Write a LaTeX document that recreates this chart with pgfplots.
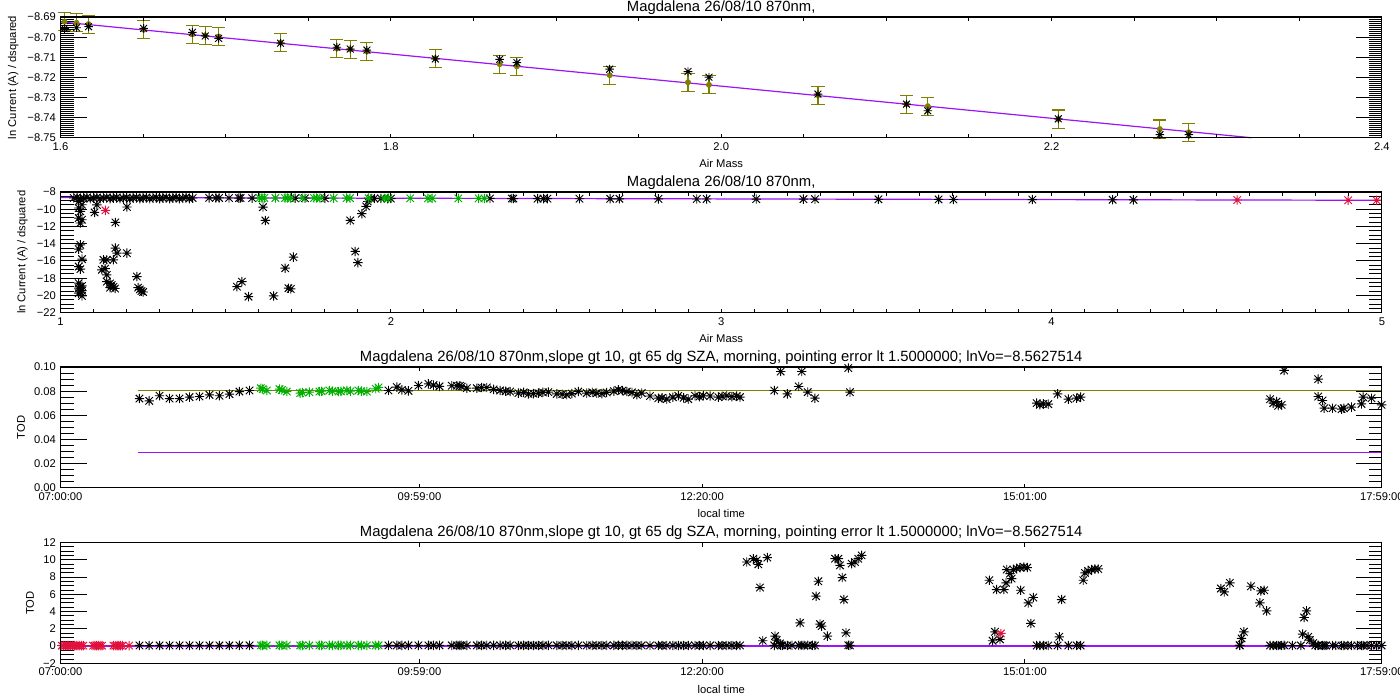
\documentclass[border=0pt]{standalone}
\usepackage{fontspec}
\setmainfont{Liberation Sans}
\usepackage{pgfplots}
\usepackage{pgfplotstable}
\pgfplotsset{compat=1.18}

\definecolor{idlpurple}{RGB}{155,20,245}
\definecolor{idlolive}{RGB}{128,128,0}
\definecolor{idlgreen}{RGB}{0,175,0}
\definecolor{idlred}{RGB}{225,15,60}

% IDL psym=2 style asterisk
\pgfdeclareplotmark{idlstar}{%
  \pgfpathmoveto{\pgfqpoint{-\pgfplotmarksize}{0pt}}%
  \pgfpathlineto{\pgfqpoint{\pgfplotmarksize}{0pt}}%
  \pgfpathmoveto{\pgfqpoint{0pt}{-\pgfplotmarksize}}%
  \pgfpathlineto{\pgfqpoint{0pt}{\pgfplotmarksize}}%
  \pgfpathmoveto{\pgfqpoint{-0.8\pgfplotmarksize}{-0.8\pgfplotmarksize}}%
  \pgfpathlineto{\pgfqpoint{0.8\pgfplotmarksize}{0.8\pgfplotmarksize}}%
  \pgfpathmoveto{\pgfqpoint{-0.8\pgfplotmarksize}{0.8\pgfplotmarksize}}%
  \pgfpathlineto{\pgfqpoint{0.8\pgfplotmarksize}{-0.8\pgfplotmarksize}}%
  \pgfusepathqstroke}

\pgfplotsset{
  panel/.style={scale only axis, width=991pt, height=90.5pt, anchor=south west,
    axis line style={line width=0.9pt},
    tick style={black, line width=0.75pt},
    tick align=inside,
    /pgf/number format/assume math mode=true,
    tick label style={font=\fontsize{8.4}{10}\selectfont},
    label style={font=\fontsize{8.4}{10}\selectfont},
    every axis title shift=0pt,
    title style={font=\fontsize{11.1}{13}\selectfont, yshift=-1.5pt},
    major tick length=19.5pt, minor tick length=9.75pt},
  yside/.style={xtick=\empty},
  xside/.style={ytick=\empty, ymin=0, ymax=1, major tick length=3pt, minor tick length=3pt},
  pts/.style={only marks, mark=idlstar, mark size=3.5pt, line width=0.7pt},
}

% TOD, black points (local time in hours)
\pgfplotstableread{
t v
7.656 0.0739
7.737 0.0720
7.823 0.0762
7.906 0.0739
7.989 0.0739
8.072 0.0751
8.155 0.0756
8.238 0.0770
8.321 0.0762
8.404 0.0776
8.487 0.0797
8.571 0.0806
9.726 0.0806
9.795 0.0834
9.837 0.0811
9.892 0.0803
9.975 0.0847
10.058 0.0861
10.100 0.0850
10.150 0.0840
10.252 0.0845
10.294 0.0845
10.320 0.0845
10.335 0.0839
10.377 0.0825
10.460 0.0825
10.500 0.0830
10.543 0.0831
10.600 0.0815
10.654 0.0806
10.700 0.0800
10.737 0.0797
10.806 0.0784
10.850 0.0790
10.889 0.0778
10.930 0.0780
10.972 0.0784
11.010 0.0790
11.055 0.0792
11.125 0.0778
11.170 0.0775
11.208 0.0770
11.250 0.0780
11.304 0.0797
11.374 0.0784
11.420 0.0790
11.457 0.0784
11.500 0.0780
11.540 0.0789
11.600 0.0800
11.637 0.0811
11.670 0.0805
11.707 0.0797
11.750 0.0790
11.790 0.0770
11.831 0.0784
11.900 0.0760
11.969 0.0742
12.000 0.0745
12.039 0.0734
12.090 0.0750
12.135 0.0762
12.180 0.0745
12.218 0.0734
12.274 0.0762
12.310 0.0755
12.343 0.0762
12.400 0.0760
12.468 0.0751
12.500 0.0758
12.538 0.0762
12.580 0.0755
12.620 0.0760
12.648 0.0751
12.933 0.0806
12.986 0.0963
13.041 0.0778
13.136 0.0839
13.161 0.0963
13.211 0.0792
13.271 0.0742
13.548 0.0992
13.562 0.0792
15.114 0.0701
15.141 0.0687
15.169 0.0695
15.210 0.0693
15.288 0.0778
15.377 0.0734
15.446 0.0742
15.479 0.0751
16.800 0.1003
17.054 0.0734
17.080 0.0701
17.108 0.0714
17.122 0.0679
17.150 0.0687
17.171 0.0972
17.454 0.0900
17.454 0.0756
17.490 0.0723
17.504 0.0659
17.573 0.0659
17.648 0.0651
17.667 0.0659
17.731 0.0668
17.814 0.0695
17.828 0.0751
17.897 0.0742
17.981 0.0687
}\todblack

% TOD, green points
\pgfplotstableread{
t v
8.665 0.0825
8.680 0.0818
8.715 0.0806
8.820 0.0817
8.840 0.0810
8.881 0.0797
8.992 0.0784
9.010 0.0788
9.069 0.0792
9.152 0.0797
9.170 0.0800
9.235 0.0806
9.260 0.0800
9.310 0.0797
9.330 0.0800
9.380 0.0806
9.410 0.0800
9.476 0.0806
9.500 0.0800
9.546 0.0797
9.620 0.0820
9.643 0.0831
}\todgreen

\begin{document}
\begin{tikzpicture}
\useasboundingbox (0,0) rectangle (1050pt,525pt);

% ---------------- panel 1 ----------------
\begin{axis}[panel, yside, at={(45.4pt,421.7pt)},
  xmin=1.6, xmax=2.4, ymin=-8.75, ymax=-8.69,
  ytick={-8.75,-8.74,-8.73,-8.72,-8.71,-8.70,-8.69},
  yticklabels={−8.75,−8.74,−8.73,−8.72,−8.71,−8.70,−8.69},
  minor y tick num=9,
  ylabel={ln Current (A) / dsquared},
  title={Magdalena 26/08/10 870nm,},
  clip=false]
\addplot[idlpurple, line width=0.9pt, mark=none] coordinates {(1.6,-8.6924) (2.321,-8.75)};
\addplot[idlolive, only marks, mark=none,
  error bars/.cd, y dir=both, y explicit,
  error bar style={line width=0.8pt, idlolive},
  error mark options={rotate=90, mark size=4.9pt, line width=0.8pt, idlolive}]
coordinates {
(1.6024,-8.6923) +- (0,0.0045)
(1.6097,-8.6929) +- (0,0.0045)
(1.6170,-8.6935) +- (0,0.0045)
(1.6503,-8.6963) +- (0,0.0045)
(1.6798,-8.6986) +- (0,0.0045)
(1.6876,-8.6991) +- (0,0.0045)
(1.6957,-8.6996) +- (0,0.0045)
(1.7332,-8.7027) +- (0,0.0045)
(1.7673,-8.7056) +- (0,0.0045)
(1.7754,-8.7060) +- (0,0.0045)
(1.7855,-8.7071) +- (0,0.0045)
(1.8269,-8.7105) +- (0,0.0045)
(1.8659,-8.7134) +- (0,0.0045)
(1.8763,-8.7145) +- (0,0.0045)
(1.9325,-8.7189) +- (0,0.0045)
(1.9799,-8.7224) +- (0,0.0045)
(1.9926,-8.7237) +- (0,0.0045)
(2.0586,-8.7288) +- (0,0.0045)
(2.1122,-8.7333) +- (0,0.0045)
(2.1251,-8.7343) +- (0,0.0045)
(2.2041,-8.7407) +- (0,0.0045)
(2.2656,-8.7457) +- (0,0.0045)
(2.2831,-8.7473) +- (0,0.0045)
};
\addplot[black, pts, mark size=3.2pt] coordinates {
(1.6024,-8.6957)(1.6097,-8.6953)(1.6170,-8.6948)(1.6503,-8.6956)(1.6798,-8.6976)
(1.6876,-8.6994)(1.6957,-8.7006)(1.7332,-8.7030)(1.7673,-8.7050)(1.7754,-8.7059)
(1.7855,-8.7064)(1.8269,-8.7108)(1.8659,-8.7110)(1.8763,-8.7127)(1.9325,-8.7159)
(1.9799,-8.7171)(1.9926,-8.7199)(2.0586,-8.7283)(2.1122,-8.7333)(2.1251,-8.7366)
(2.2041,-8.7406)(2.2656,-8.7485)(2.2831,-8.7485)
};
\end{axis}
\begin{axis}[panel, xside, at={(45.4pt,421.7pt)},
  xmin=1.6, xmax=2.4, xtick={1.6,1.8,2.0,2.2,2.4},
  xticklabels={1.6,1.8,2.0,2.2,2.4}, minor x tick num=3,
  xlabel={Air Mass}]
\end{axis}

% ---------------- panel 2 ----------------
\begin{axis}[panel, yside, at={(45.4pt,290.5pt)},
  xmin=1, xmax=5, ymin=-22, ymax=-8,
  ytick={-22,-20,-18,-16,-14,-12,-10,-8},
  yticklabels={−22,−20,−18,−16,−14,−12,−10,−8},
  minor y tick num=3,
  ylabel={ln Current (A) / dsquared},
  title={Magdalena 26/08/10 870nm,}]
\addplot[black, pts] coordinates {
(1.040,-8.70)(1.050,-8.62)(1.060,-8.78)(1.070,-8.70)(1.080,-8.62)(1.090,-8.78)
(1.100,-8.70)(1.110,-8.62)(1.120,-8.78)(1.130,-8.70)(1.140,-8.62)(1.150,-8.78)
(1.160,-8.70)(1.170,-8.62)(1.180,-8.78)(1.190,-8.70)(1.200,-8.62)(1.210,-8.78)
(1.220,-8.70)(1.230,-8.62)(1.240,-8.78)(1.250,-8.70)(1.260,-8.62)(1.270,-8.78)
(1.280,-8.70)(1.290,-8.62)(1.300,-8.78)(1.310,-8.70)(1.320,-8.62)(1.330,-8.78)
(1.340,-8.70)(1.350,-8.62)(1.360,-8.78)(1.370,-8.70)(1.380,-8.62)(1.390,-8.78)
(1.400,-8.70)
(1.450,-8.68)(1.470,-8.70)(1.480,-8.69)(1.510,-8.70)(1.540,-8.71)(1.545,-8.70)(1.580,-8.71)
(1.710,-8.73)(1.740,-8.72)(1.800,-8.74)(1.940,-8.76)(1.950,-8.75)(1.970,-8.76)(1.990,-8.77)(2.000,-8.76)
(2.300,-8.75)(2.366,-8.76)(2.371,-8.76)(2.444,-8.77)(2.462,-8.77)(2.474,-8.77)(2.571,-8.78)
(2.664,-8.79)(2.692,-8.79)(2.810,-8.80)(2.926,-8.81)(2.956,-8.81)(3.106,-8.82)(3.249,-8.83)
(3.284,-8.83)(3.476,-8.85)(3.658,-8.86)(3.703,-8.87)(3.942,-8.88)(4.185,-8.90)(4.248,-8.91)
(1.055,-9.09)(1.065,-9.48)(1.055,-9.86)(1.060,-10.25)(1.055,-11.03)(1.065,-11.22)(1.060,-11.60)
(1.060,-14.13)(1.055,-14.63)(1.065,-15.79)(1.055,-16.65)(1.060,-16.95)(1.055,-18.58)(1.065,-18.90)
(1.055,-19.16)(1.065,-19.44)(1.055,-19.74)(1.065,-20.06)(1.060,-19.00)(1.060,-19.60)
(1.103,-10.37)(1.110,-9.50)(1.166,-11.53)(1.201,-9.74)(1.166,-14.51)(1.171,-15.09)(1.201,-15.09)
(1.130,-15.87)(1.140,-15.87)(1.160,-15.87)(1.125,-17.03)(1.135,-16.90)(1.140,-17.62)
(1.140,-18.40)(1.150,-18.60)(1.155,-18.80)(1.160,-19.00)(1.165,-19.20)(1.150,-19.10)
(1.231,-17.81)(1.235,-19.10)(1.240,-19.30)(1.245,-19.50)(1.250,-19.60)
(1.534,-18.98)(1.549,-18.40)(1.569,-20.14)(1.613,-9.75)(1.620,-11.30)(1.645,-20.06)
(1.680,-16.84)(1.690,-19.16)(1.697,-19.25)(1.705,-15.56)
(1.877,-11.30)(1.892,-14.90)(1.900,-16.19)(1.912,-10.52)(1.925,-9.67)(1.930,-9.10)
};
\addplot[idlgreen, pts] coordinates {
(1.6024,-8.6957)(1.6097,-8.6953)(1.6170,-8.6948)(1.6503,-8.6956)(1.6798,-8.6976)
(1.6876,-8.6994)(1.6957,-8.7006)(1.7332,-8.7030)(1.7673,-8.7050)(1.7754,-8.7059)
(1.7855,-8.7064)(1.8269,-8.7108)(1.8659,-8.7110)(1.8763,-8.7127)(1.9325,-8.7159)
(1.9799,-8.7171)(1.9926,-8.7199)(2.0586,-8.7283)(2.1122,-8.7333)(2.1251,-8.7366)
(2.2041,-8.7406)(2.2656,-8.7485)(2.2831,-8.7485)
};
\addplot[idlred, pts] coordinates {
(1.136,-10.13)(4.562,-8.93)(4.898,-8.96)(4.984,-8.97)
};
\addplot[idlpurple, line width=0.9pt, mark=none] coordinates {(1,-8.6426) (5,-8.9622)};
\end{axis}
\begin{axis}[panel, xside, at={(45.4pt,290.5pt)},
  xmin=1, xmax=5, xtick={1,2,3,4,5}, xticklabels={1,2,3,4,5}, minor x tick num=9,
  xlabel={Air Mass}]
\end{axis}

% ---------------- panel 3 ----------------
\begin{axis}[panel, yside, at={(45.4pt,159.2pt)},
  xmin=7, xmax=17.98333, ymin=0, ymax=0.1,
  ytick={0,0.02,0.04,0.06,0.08,0.1},
  yticklabels={0.00,0.02,0.04,0.06,0.08,0.10},
  minor y tick num=3,
  ylabel={TOD},
  title={Magdalena 26/08/10 870nm,slope gt 10, gt 65 dg SZA, morning, pointing error lt 1.5000000; lnVo=−8.5627514}]
\addplot[idlolive, line width=0.9pt, mark=none] coordinates {(7.648,0.0809) (17.98333,0.0809)};
\addplot[idlpurple, line width=0.9pt, mark=none] coordinates {(7.648,0.0294) (17.98333,0.0294)};
\addplot[black, pts] table[x=t, y=v] {\todblack};
\addplot[idlgreen, pts] table[x=t, y=v] {\todgreen};
\end{axis}
\begin{axis}[panel, xside, at={(45.4pt,159.2pt)},
  xmin=7, xmax=17.98333,
  xtick={7,9.98333,12.33333,15.01667,17.98333},
  xticklabels={07:00:00,09:59:00,12:20:00,15:01:00,17:59:00},
  xlabel={local time}]
\end{axis}

% ---------------- panel 4 ----------------
\begin{axis}[panel, yside, at={(45.4pt,27.5pt)},
  xmin=7, xmax=17.98333, ymin=-2, ymax=12,
  ytick={-2,0,2,4,6,8,10,12},
  yticklabels={−2,0,2,4,6,8,10,12},
  minor y tick num=3,
  ylabel={TOD},
  title={Magdalena 26/08/10 870nm,slope gt 10, gt 65 dg SZA, morning, pointing error lt 1.5000000; lnVo=−8.5627514}]
\addplot[idlpurple, line width=0.9pt, mark=none] coordinates {(7,0) (17.98333,0)};
\addplot[black, pts] table[x=t, y=v] {\todblack};
\addplot[black, pts] coordinates {
(12.704,9.76)(12.759,10.14)(12.787,9.95)(12.800,9.49)(12.875,10.26)(12.814,6.79)
(12.837,0.62)(12.939,1.16)(12.953,0.70)(12.981,0.31)(13.000,0.08)(13.080,0.08)
(13.180,0.08)(13.250,0.08)(13.147,2.70)(13.280,5.79)(13.299,7.52)(13.313,2.55)
(13.327,2.32)(13.374,1.16)(13.438,10.14)(13.466,10.14)(13.479,9.37)(13.498,7.95)
(13.512,5.40)(13.529,1.54)(13.576,9.57)(13.604,9.76)(13.631,10.14)(13.659,10.53)
(14.720,7.64)(14.748,0.62)(14.767,1.66)(14.781,6.56)(14.809,0.78)(14.842,6.56)
(14.859,7.33)(14.865,8.88)(14.892,8.41)(14.906,7.83)(14.920,8.88)(14.948,9.00)
(14.975,9.11)(15.008,9.18)(15.036,9.11)(14.981,6.48)(15.044,5.01)(15.086,5.64)
(15.066,2.63)(15.321,5.40)(15.302,1.08)(15.501,7.64)(15.515,8.49)(15.542,8.71)
(15.570,8.88)(15.598,8.95)(15.626,8.95)
(16.645,6.68)(16.673,6.29)(16.720,7.33)(16.803,0.08)(16.817,0.89)(16.836,1.66)
(16.895,6.94)(16.969,5.01)(16.978,6.40)(17.005,6.48)(17.025,4.09)
(17.240,0.07)(17.310,0.07)(17.324,1.39)(17.337,3.32)(17.357,4.09)(17.371,1.08)
(17.385,0.70)(17.412,0.35)(17.430,0.07)(17.520,0.07)(17.600,0.07)(17.700,0.07)
(17.780,0.07)(17.860,0.07)(17.940,0.07)
};
\addplot[idlgreen, pts] table[x=t, y=v] {\todgreen};
\addplot[idlred, pts] coordinates {
(7.010,0.05)(7.025,0.05)(7.040,0.05)(7.055,0.05)(7.070,0.05)(7.085,0.05)(7.100,0.05)
(7.115,0.05)(7.130,0.05)(7.145,0.05)(7.160,0.05)(7.175,0.05)(7.190,0.05)
(7.270,0.05)(7.285,0.05)(7.300,0.05)(7.315,0.05)(7.330,0.05)(7.345,0.05)
(7.440,0.05)(7.455,0.05)(7.470,0.05)(7.485,0.05)(7.500,0.05)(7.515,0.05)(7.570,0.05)
(14.817,1.47)
};
\end{axis}
\begin{axis}[panel, xside, at={(45.4pt,27.5pt)},
  xmin=7, xmax=17.98333,
  xtick={7,9.98333,12.33333,15.01667,17.98333},
  xticklabels={07:00:00,09:59:00,12:20:00,15:01:00,17:59:00},
  xlabel={local time}]
\end{axis}
\end{tikzpicture}
\end{document}
